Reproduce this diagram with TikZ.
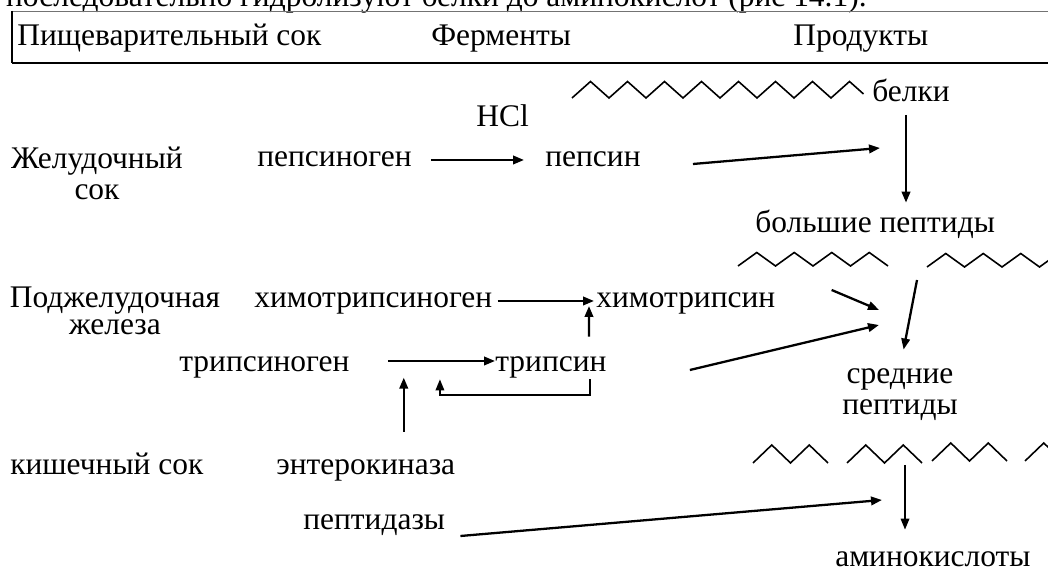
\documentclass[tikz,border=0pt]{standalone}
\usepackage{fontspec}
\setmainfont{Liberation Serif}
\usetikzlibrary{arrows.meta}

\begin{document}
\begin{tikzpicture}[
    every node/.style={inner sep=0pt, font=\fontsize{17.9}{18}\selectfont},
    lbl/.style={anchor=base west, text height=0.42cm, text depth=0.14cm},
    hdrbox/.style={draw=black!55, line width=0.6pt, minimum width=21.5cm, minimum height=1.02cm, anchor=south west},
    arr/.style={-{Triangle[length=0.22cm,width=0.17cm]}, line width=1.3pt},
    zigline/.style={line width=0.9pt, line join=miter}
]
    \useasboundingbox (0,0) rectangle (20.96,11.5);

    % Caption line cut at the top
    \node[anchor=base east] (intro) at (17.34,11.36) {последовательно гидролизуют белки до аминокислот (рис 14.1).};

    % Header
    \node[hdrbox] (header) at (0.24,10.24) {};
    \draw[line width=0.8pt] (header.north west) -- (header.south west);
    \draw[line width=1.6pt] (header.south west) -- (header.south east);
    \node[lbl] (juice) at (0.34,10.58) {Пищеварительный сок};
    \node[lbl] (enzymes) at (8.62,10.58) {Ферменты};
    \node[lbl] (products) at (15.86,10.58) {Продукты};

    % Stomach
    \node[align=center, anchor=base] (stomach) at (1.94,7.5) {Желудочный\\сок};
    \node[lbl] (pepsinogen) at (5.14,8.16) {пепсиноген};
    \node[lbl] (hcl) at (9.52,8.96) {HCl};
    \node[lbl] (pepsin) at (10.9,8.16) {пепсин};
    \node[lbl] (proteins) at (17.44,9.46) {белки};
    \node[lbl] (bigpep) at (15.1,6.84) {большие пептиды};
    \coordinate (c1) at (17.6,8.54);
    \coordinate (b1) at (18.12,9.2);

    % Pancreas
    \node[align=center, anchor=base] (pancreas) at (2.3,4.8) {Поджелудочная\\[-2.6pt]железа};
    \node[lbl] (chymogen) at (5.08,5.34) {химотрипсиноген};
    \node[lbl] (chymo) at (11.92,5.34) {химотрипсин};
    \node[lbl] (trypsinogen) at (3.58,4.06) {трипсиноген};
    \node[lbl] (trypsin) at (9.9,4.06) {трипсин};
    \node[align=center, anchor=base] (midpep) at (18.0,3.2) {средние\\пептиды};
    \coordinate (c2) at (17.58,5.3);
    \coordinate (c3) at (17.58,5.0);
    \coordinate (c4) at (18.34,5.9);

    % Intestine
    \node[lbl] (intestine) at (0.2,2.0) {кишечный сок};
    \node[lbl] (enterokinase) at (5.52,2.0) {энтерокиназа};
    \node[lbl] (peptidases) at (6.06,0.9) {пептидазы};
    \node[lbl] (aminoacids) at (16.7,0.16) {аминокислоты};
    \coordinate (c6) at (17.64,1.5);
    \coordinate (c7) at (18.1,2.2);

    % Chains
    \draw[zigline] (11.44,9.54) \foreach \i in {1,...,7} {-- ++(0.37,0.33) -- ++(0.37,-0.33)} -- ++(0.37,0.33) -- ++(0.28,-0.25);
    \draw[zigline] (14.76,6.18) \foreach \i in {1,...,4} {-- ++(0.375,0.27) -- ++(0.375,-0.27)};
    \draw[zigline] (18.54,6.16) \foreach \i in {1,...,4} {-- ++(0.375,0.27) -- ++(0.375,-0.27)};
    \draw[zigline] (15.06,2.24) \foreach \i in {1,2} {-- ++(0.375,0.36) -- ++(0.375,-0.36)};
    \draw[zigline] (16.94,2.24) \foreach \i in {1,2} {-- ++(0.375,0.36) -- ++(0.375,-0.36)};
    \draw[zigline] (18.64,2.28) \foreach \i in {1,2} {-- ++(0.375,0.36) -- ++(0.375,-0.36)};
    \draw[zigline] (20.5,2.28) \foreach \i in {1,2} {-- ++(0.375,0.36) -- ++(0.375,-0.36)};

    % Arrows
    \draw[arr, shorten <=0.38cm, shorten >=0.42cm] (pepsinogen.east) -- (pepsin.west);
    \draw[arr] ([xshift=1.04cm,yshift=-0.08cm]pepsin.east) -- (c1);
    \draw[arr, shorten >=0.18cm] (b1) -- (b1 |- bigpep.north);
    \draw[arr, shorten <=0.1cm, shorten >=0.04cm] (chymogen.east) -- (chymo.west);
    \draw[arr] ([xshift=1.12cm,yshift=0.22cm]chymo.east) -- (c2);
    \draw[arr, shorten <=0.76cm] ([yshift=0.08cm]trypsinogen.east) -- ([yshift=0.08cm]trypsin.west);
    \draw[arr] ([xshift=1.66cm,yshift=-0.1cm]trypsin.east) -- (c3);
    \draw[arr] ([xshift=0.76cm,yshift=0.28cm]trypsin.north) -- ([xshift=-0.14cm,yshift=-0.1cm]chymo.west);
    \draw[arr, line width=1pt, line join=miter] ([xshift=0.78cm]trypsin.south) -- ++(0,-0.32) -- ++(-3.0,0) -- ++(0,0.32);
    \draw[arr] ([xshift=0.76cm,yshift=0.44cm]enterokinase.north) -- ++(0,1.08);
    \draw[arr, shorten >=0.38cm] (c4) -- (midpep.north);
    \draw[arr] ([xshift=0.3cm,yshift=-0.26cm]peptidases.east) -- (c6);
    \draw[arr, line width=1pt, shorten >=0.32cm] (c7) -- (c7 |- aminoacids.north);

\end{tikzpicture}
\end{document}
